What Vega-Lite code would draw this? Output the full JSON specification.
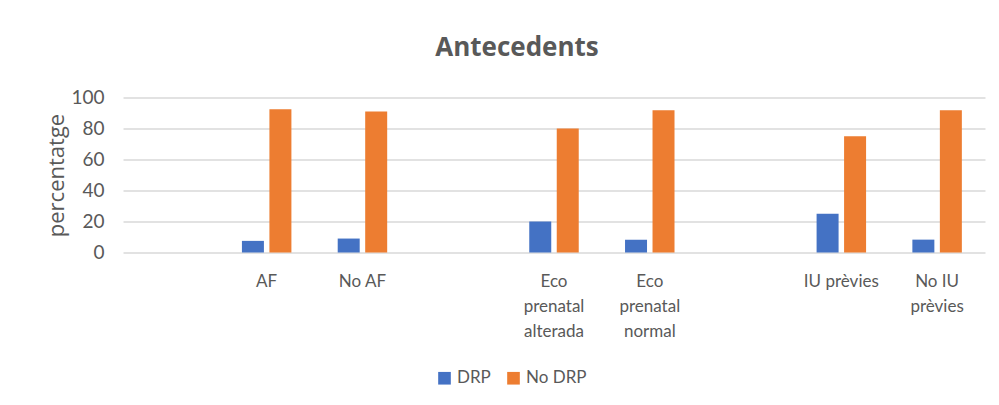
{
  "$schema": "https://vega.github.io/schema/vega-lite/v6.json",
  "autosize": {"type": "none"},
  "width": 862,
  "height": 155,
  "padding": {"left": 123, "top": 97.5, "right": 14, "bottom": 152.5},
  "background": "white",
  "title": {
    "text": "Antecedents",
    "font": "Open Sans",
    "fontSize": 26,
    "fontWeight": "bold",
    "color": "#595959",
    "anchor": "middle",
    "frame": "group",
    "dx": -37,
    "offset": 28
  },
  "data": {
    "values": [
      {"category": "AF", "group": "DRP", "pct": 7.5},
      {"category": "AF", "group": "No DRP", "pct": 92.5},
      {"category": "No AF", "group": "DRP", "pct": 9},
      {"category": "No AF", "group": "No DRP", "pct": 91},
      {"category": "Eco prenatal alterada", "group": "DRP", "pct": 20},
      {"category": "Eco prenatal alterada", "group": "No DRP", "pct": 80},
      {"category": "Eco prenatal normal", "group": "DRP", "pct": 8.3},
      {"category": "Eco prenatal normal", "group": "No DRP", "pct": 91.7},
      {"category": "IU prèvies", "group": "DRP", "pct": 25},
      {"category": "IU prèvies", "group": "No DRP", "pct": 75},
      {"category": "No IU prèvies", "group": "DRP", "pct": 8.3},
      {"category": "No IU prèvies", "group": "No DRP", "pct": 91.7}
    ]
  },
  "mark": {"type": "bar"},
  "encoding": {
    "x": {
      "field": "category",
      "type": "nominal",
      "sort": null,
      "scale": {
        "domain": [" ", "AF", "No AF", "  ", "Eco prenatal alterada", "Eco prenatal normal", "   ", "IU prèvies", "No IU prèvies"],
        "paddingInner": 0,
        "paddingOuter": 0
      },
      "axis": {
        "title": null,
        "domain": false,
        "ticks": false,
        "labelAngle": 0,
        "labelPadding": 21,
        "labelFont": "Lato",
        "labelFontSize": 17,
        "labelColor": "#595959",
        "labelLineHeight": 25,
        "labelBaseline": "top",
        "labelExpr": "datum.value == 'Eco prenatal alterada' ? ['Eco', 'prenatal', 'alterada'] : datum.value == 'Eco prenatal normal' ? ['Eco', 'prenatal', 'normal'] : datum.value == 'No IU prèvies' ? ['No IU', 'prèvies'] : datum.value"
      }
    },
    "xOffset": {
      "field": "group",
      "type": "nominal",
      "scale": {"paddingInner": 0.2, "paddingOuter": 0.842}
    },
    "y": {
      "field": "pct",
      "type": "quantitative",
      "scale": {"domain": [0, 100]},
      "axis": {
        "title": "percentatge",
        "titleFont": "Open Sans",
        "titleFontSize": 22,
        "titleFontWeight": "normal",
        "titleColor": "#595959",
        "titlePadding": 2,
        "values": [0, 20, 40, 60, 80, 100],
        "domain": false,
        "ticks": false,
        "labelPadding": 19,
        "labelFont": "Lato",
        "labelFontSize": 19,
        "labelColor": "#595959",
        "grid": true,
        "gridColor": "#d9d9d9",
        "gridWidth": 1.5
      }
    },
    "color": {
      "field": "group",
      "type": "nominal",
      "scale": {"domain": ["DRP", "No DRP"], "range": ["#4472C4", "#ED7D31"]},
      "legend": {
        "title": null,
        "orient": "none",
        "direction": "horizontal",
        "legendX": 313,
        "legendY": 272,
        "symbolType": "square",
        "symbolSize": 160,
        "symbolStrokeWidth": 0,
        "symbolOpacity": 1,
        "labelFont": "Lato",
        "labelFontSize": 17,
        "labelColor": "#595959",
        "labelOffset": 4,
        "columnPadding": 14
      }
    }
  },
  "config": {"view": {"stroke": null}}
}
